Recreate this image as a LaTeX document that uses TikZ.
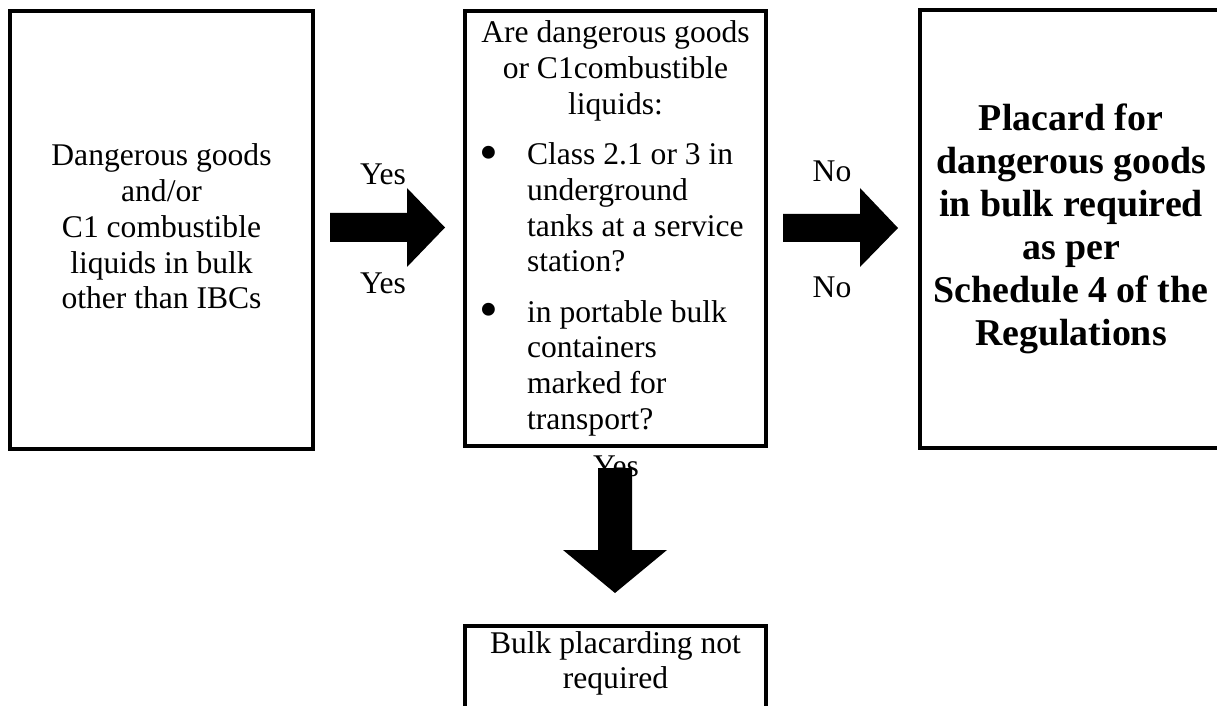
\documentclass[tikz,border=0pt]{standalone}
\usepackage{fontspec}
\usepackage{graphicx}
\setmainfont{Liberation Serif}

% one bullet line of the question box
\newcommand{\chkitem}[1]{\par\hangindent=19.6pt\hangafter=1\noindent\hspace*{1.6pt}\makebox[18pt][l]{\raisebox{-2.1pt}{\scalebox{1.7}{\textbullet}}}#1\par}

\tikzset{
  flowbox/.style={draw, line width=1.5pt, inner sep=0pt, minimum width=115.1pt, minimum height=166.1pt, align=center},
  choicelabel/.style={inner sep=0pt},
  blockarrow/.style={fill=black},
}

\begin{document}
\begin{tikzpicture}[x=0.38pt, y=-0.38pt, every node/.style={font=\fontsize{12}{13.6}\selectfont}]
    \clip (0,0) rectangle (1217,706);
    \fill[white] (0,0) rectangle (1217,706);

    % boxes
    \node[flowbox, text depth=2.7pt] (goods) at (161.5,230) {Dangerous goods\\and/or\\C1 combustible\\liquids in bulk\\other than IBCs};
    \node[flowbox, minimum width=114.4pt, minimum height=165.3pt] (check) at (615.5,228.5) {%
        \begin{minipage}{106.4pt}
        \centering Are dangerous goods\\or C1combustible\\liquids:\par
        \vspace{5.5pt}\raggedright
        \chkitem{Class 2.1 or 3 in\newline underground\newline tanks at a service\newline station?}
        \vspace{5.5pt}
        \chkitem{in portable bulk\newline containers\newline marked for\newline transport?}
        \end{minipage}};
    \node[flowbox, font=\bfseries\fontsize{14.4}{16.3}\selectfont] (placard) at (1071,229) {Placard for\\dangerous goods\\in bulk required\\as per\\Schedule 4 of the\\Regulations};
    \node[flowbox, anchor=north, minimum width=114.4pt, minimum height=0pt, inner ysep=2pt, text depth=40pt] (noplacard) at (615.5,624) {Bulk placarding not\\required};

    % labels
    \node[choicelabel] (yesa) at (383,174) {Yes};
    \node[choicelabel] (yesb) at (383,283) {Yes};
    \node[choicelabel] (noa) at (832,171) {No};
    \node[choicelabel] (nob) at (832,287) {No};
    \node[choicelabel] (yesc) at (616,466) {Yes};

    % block arrows
    \fill[blockarrow] (330,213) -- (407,213) -- (407,188) -- (445,227.5) -- (407,267) -- (407,242) -- (330,242) -- cycle;
    \fill[blockarrow] (783,214) -- (860,214) -- (860,188) -- (898,228) -- (860,267) -- (860,242) -- (783,242) -- cycle;
    \fill[blockarrow] (598,468) -- (632,468) -- (632,550) -- (667,550) -- (615,593) -- (563,550) -- (598,550) -- cycle;
\end{tikzpicture}
\end{document}
